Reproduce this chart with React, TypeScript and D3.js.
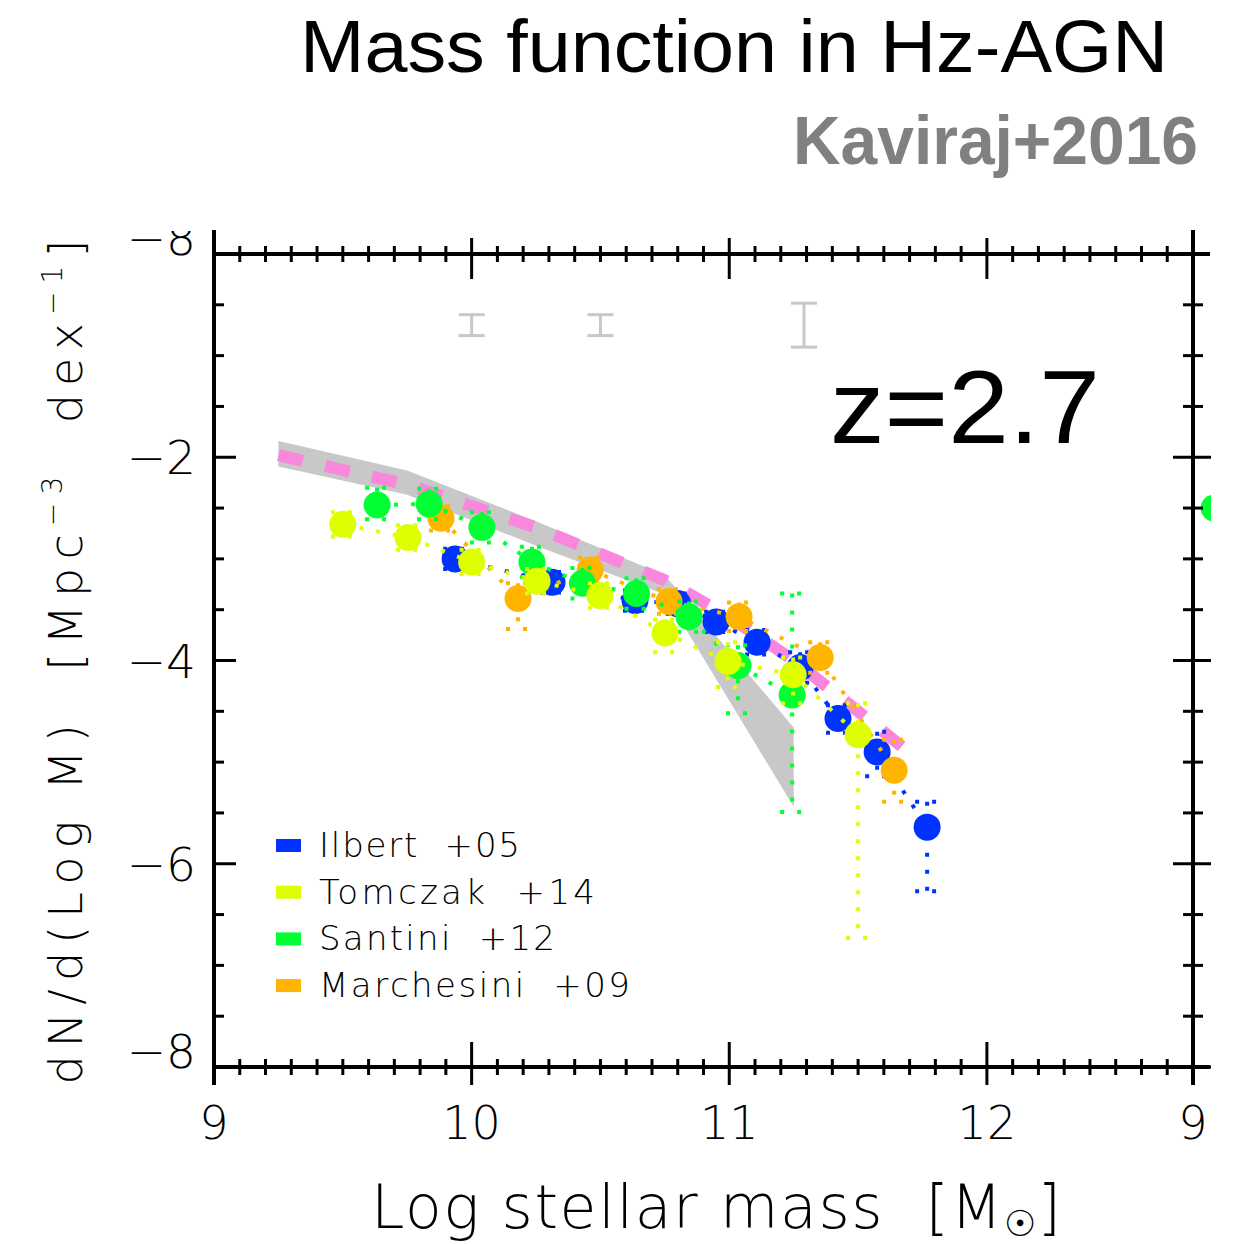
import React from 'react';
import * as d3 from 'd3';

// ---------- data ----------
const xMajorTicks = [9, 10, 11, 12];
const yMajorTicks = [-2, -4, -6, -8];
const xTickLabels = ['9', '10', '11', '12'];
const yTickLabels = ['−2', '−4', '−6', '−8'];

// Hz-AGN model: grey range band
const bandMass = [9.25, 9.75, 10.25, 10.75, 11.25];
const bandHi = [-1.84, -2.13, -2.63, -3.16, -4.66];
const bandLo = [-2.09, -2.37, -2.87, -3.35, -5.44];

// Hz-AGN model: pink dashed line
const modelMass = [9.25, 9.75, 10.25, 10.75, 11.0, 11.25, 11.5, 11.73];
const modelVal = [-1.98, -2.27, -2.69, -3.21, -3.57, -4.0, -4.5, -4.97];

// grey reference error bars
const refErrMass = [10.0, 10.5, 11.29];
const refErrVal = [-0.70, -0.70, -0.70];
const refErrHalf = [0.103, 0.103, 0.216];

// observations
const ilbertMass = [9.936, 10.312, 10.634, 10.8, 10.949, 11.108, 11.275, 11.422, 11.574, 11.768];
const ilbertVal = [-3.0, -3.23, -3.41, -3.44, -3.62, -3.82, -4.07, -4.57, -4.9, -5.64];
const ilbertErrHi = [0.1, 0.1, 0.1, 0.1, 0.1, 0.12, 0.15, 0.13, 0.2, 0.25];
const ilbertErrLo = [0.1, 0.1, 0.1, 0.1, 0.1, 0.12, 0.15, 0.14, 0.24, 0.63];

const tomczakMass = [9.5, 9.753, 10.0, 10.254, 10.498, 10.751, 10.995, 11.248, 11.5];
const tomczakVal = [-2.66, -2.79, -3.03, -3.22, -3.36, -3.73, -4.01, -4.14, -4.73];
const tomczakErrHi = [0.12, 0.12, 0.12, 0.12, 0.12, 0.13, 0.19, 0.17, 0.31];
const tomczakErrLo = [0.12, 0.12, 0.12, 0.12, 0.12, 0.19, 0.25, 0.28, 2.0];

const santiniMass = [9.633, 9.835, 10.04, 10.234, 10.43, 10.64, 10.844, 11.034, 11.244];
const santiniVal = [-2.47, -2.46, -2.69, -3.03, -3.24, -3.34, -3.57, -4.05, -4.34];
const santiniErrHi = [0.17, 0.15, 0.15, 0.15, 0.15, 0.15, 0.15, 0.2, 1.0];
const santiniErrLo = [0.14, 0.15, 0.15, 0.15, 0.15, 0.15, 0.15, 0.47, 1.15];

const marchesiniMass = [9.881, 10.18, 10.46, 10.766, 11.038, 11.353, 11.64];
const marchesiniVal = [-2.6, -3.39, -3.11, -3.42, -3.57, -3.97, -5.08];
const marchesiniErrHi = [0.12, 0.15, 0.12, 0.12, 0.14, 0.15, 0.3];
const marchesiniErrLo = [0.12, 0.3, 0.12, 0.12, 0.14, 0.15, 0.31];

// first point of the neighbouring panel (clipped at the picture edge)
const nextPanelMass = [9.078];
const nextPanelVal = [-2.5];

const legendNames = ['Ilbert  +05', 'Tomczak  +14', 'Santini  +12', 'Marchesini  +09'];
const legendWidths = [201, 276, 236, 311];

const BLUE = '#0033ff';
const YELLOW = '#ddff00';
const GREEN = '#00ff33';
const ORANGE = '#ffb400';
const GREY = '#c8c8c8';
const PINK = '#f987dc';

type Series = { mass: number[]; val: number[]; hi: number[]; lo: number[]; color: string };

const seriesDrawOrder: Series[] = [
  { mass: ilbertMass, val: ilbertVal, hi: ilbertErrHi, lo: ilbertErrLo, color: BLUE },
  { mass: marchesiniMass, val: marchesiniVal, hi: marchesiniErrHi, lo: marchesiniErrLo, color: ORANGE },
  { mass: santiniMass, val: santiniVal, hi: santiniErrHi, lo: santiniErrLo, color: GREEN },
  { mass: tomczakMass, val: tomczakVal, hi: tomczakErrHi, lo: tomczakErrLo, color: YELLOW },
];
const legendColors = [BLUE, YELLOW, GREEN, ORANGE];

// ---------- layout ----------
const W = 1239;
const H = 1244;
const X0 = 214, X1 = 1193, Y0 = 254, Y1 = 1067;

export default function App() {
  const x = d3.scaleLinear().domain([9, 12.8]).range([X0, X1]);
  const y = d3.scaleLinear().domain([0, -8]).range([Y0, Y1]);
  const xNext = d3.scaleLinear().domain([9, 12.8]).range([X1, X1 + (X1 - X0)]);

  const TF = "'DejaVu Sans', sans-serif";
  const TW = 200;
  const HF = "'Liberation Sans', 'Helvetica', sans-serif";

  const bandPts: [number, number][] = [
    ...bandMass.map((m, i) => [x(m), y(bandHi[i])] as [number, number]),
    ...bandMass.map((m, i) => [x(m), y(bandLo[i])] as [number, number]).reverse(),
  ];
  const line = d3.line<[number, number]>();
  const bandPath = line(bandPts) + 'Z';
  const modelPath = line(modelMass.map((m, i) => [x(m), y(modelVal[i])]));

  const minorX = d3.range(90, 129).map((i) => i / 10).filter((v) => Math.abs(v - Math.round(v)) > 1e-6);
  const minorY = d3.range(0, 17).map((i) => -i / 2).filter((v) => Math.abs(v / 2 - Math.round(v / 2)) > 1e-6);

  const dot = { strokeDasharray: '4 13', strokeWidth: 4, fill: 'none' } as const;

  return (
    <svg width={W} height={H} style={{ position: 'absolute', left: 0, top: 0, background: '#fff' }} xmlns="http://www.w3.org/2000/svg">
      <defs>
        <clipPath id="topClip"><rect x={0} y={231} width={W} height={H} /></clipPath>
        <clipPath id="rightClip"><rect x={0} y={0} width={1211} height={H} /></clipPath>
      </defs>
      <rect x={0} y={0} width={W} height={H} fill="#fff" />

      {/* titles */}
      <text x={1168} y={72} textAnchor="end" fontFamily={HF} fontSize={75} fill="#000" textLength={868} lengthAdjust="spacingAndGlyphs">Mass function in Hz-AGN</text>
      <text x={1198} y={164} textAnchor="end" fontFamily={HF} fontWeight="bold" fontSize={68} fill="#808080" textLength={405} lengthAdjust="spacingAndGlyphs">Kaviraj+2016</text>

      {/* model band and line */}
      <path d={bandPath} fill={GREY} stroke="none" />
      <path d={modelPath || ''} fill="none" stroke={PINK} strokeWidth={12} strokeDasharray="25 23" />

      {/* grey reference error bars */}
      {refErrMass.map((m, i) => {
        const cx = x(m);
        const yt = y(refErrVal[i] + refErrHalf[i]);
        const yb = y(refErrVal[i] - refErrHalf[i]);
        return (
          <g key={'re' + i} stroke={GREY} strokeWidth={3}>
            <line x1={cx} x2={cx} y1={yt} y2={yb} />
            <line x1={cx - 13} x2={cx + 13} y1={yt} y2={yt} />
            <line x1={cx - 13} x2={cx + 13} y1={yb} y2={yb} />
          </g>
        );
      })}

      {/* observational data */}
      {seriesDrawOrder.map((s, si) => {
        const pts = s.mass.map((m, i) => [x(m), y(s.val[i])] as [number, number]);
        return (
          <g key={'s' + si}>
            <path d={line(pts) || ''} stroke={s.color} {...dot} />
            {s.mass.map((m, i) => {
              const cx = x(m);
              const yt = y(s.val[i] + s.hi[i]);
              const yb = y(s.val[i] - s.lo[i]);
              return (
                <g key={i} stroke={s.color} {...dot}>
                  <line x1={cx} x2={cx} y1={yt} y2={yb} />
                  <line x1={cx - 12} x2={cx + 12} y1={yt} y2={yt} />
                  <line x1={cx - 12} x2={cx + 12} y1={yb} y2={yb} />
                </g>
              );
            })}
            {pts.map((p, i) => (
              <circle key={'c' + i} cx={p[0]} cy={p[1]} r={13.5} fill={s.color} />
            ))}
          </g>
        );
      })}

      {/* neighbouring panel remnant */}
      <g clipPath="url(#rightClip)">
        {nextPanelMass.map((m, i) => (
          <g key={'np' + i}>
            <line x1={xNext(m) - 12} x2={xNext(m) + 12} y1={y(nextPanelVal[i])} y2={y(nextPanelVal[i])} stroke={GREEN} {...dot} />
            <circle cx={xNext(m) + 1} cy={y(nextPanelVal[i])} r={13.5} fill={GREEN} />
          </g>
        ))}
      </g>

      {/* z label */}
      <text x={1100} y={443} textAnchor="end" fontFamily={HF} fontSize={104} fill="#000" textLength={270} lengthAdjust="spacingAndGlyphs">z=2.7</text>

      {/* frame */}
      <g stroke="#000" strokeWidth={4} fill="none">
        <line x1={X0} x2={1210} y1={Y0} y2={Y0} />
        <line x1={X0} x2={1210} y1={Y1} y2={Y1} />
        <line x1={X0} x2={X0} y1={230} y2={1085} />
        <line x1={X1} x2={X1} y1={230} y2={1085} />
      </g>
      <g stroke="#000" strokeWidth={3}>
        {minorX.map((v) => (
          <g key={'mx' + v}>
            <line x1={x(v)} x2={x(v)} y1={Y0 - 8} y2={Y0 + 8} />
            <line x1={x(v)} x2={x(v)} y1={Y1 - 8} y2={Y1 + 8} />
          </g>
        ))}
        {xMajorTicks.map((v) => (
          <g key={'Mx' + v}>
            <line x1={x(v)} x2={x(v)} y1={Y0 - 16} y2={Y0 + 25} />
            <line x1={x(v)} x2={x(v)} y1={Y1 - 25} y2={Y1 + 18} />
          </g>
        ))}
        {minorY.map((v) => (
          <g key={'my' + v}>
            <line x1={X0} x2={X0 + 10} y1={y(v)} y2={y(v)} />
            <line x1={X1 - 10} x2={X1 + 10} y1={y(v)} y2={y(v)} />
          </g>
        ))}
        {yMajorTicks.map((v) => (
          <g key={'My' + v}>
            <line x1={X0} x2={X0 + 22} y1={y(v)} y2={y(v)} />
            <line x1={X1 - 20} x2={X1 + 18} y1={y(v)} y2={y(v)} />
          </g>
        ))}
      </g>

      {/* tick labels */}
      {xMajorTicks.map((v, i) => (
        <text key={'xl' + v} x={x(v)} y={1139} textAnchor="middle" fontFamily={TF} fontWeight={TW} fontSize={46} fill="#000">{xTickLabels[i]}</text>
      ))}
      <text x={xNext(9)} y={1139} textAnchor="middle" fontFamily={TF} fontWeight={TW} fontSize={46} fill="#000">9</text>
      {yMajorTicks.map((v, i) => (
        <text key={'yl' + v} x={196} y={v === -8 ? 1068 : y(v) + 17} textAnchor="end" fontFamily={TF} fontWeight={TW} fontSize={47} fill="#000">{yTickLabels[i]}</text>
      ))}
      <text x={196} y={255} textAnchor="end" fontFamily={TF} fontWeight={TW} fontSize={47} fill="#000" clipPath="url(#topClip)">−8</text>

      {/* axis titles */}
      <text x={716} y={1228} textAnchor="middle" fontFamily={TF} fontWeight={TW} fontSize={60} fill="#000" style={{ whiteSpace: 'pre' }} textLength={690}>
        Log stellar mass  [M<tspan fontSize={36} dy={8}>☉</tspan><tspan dy={-8}>]</tspan>
      </text>
      <text transform="translate(82,662) rotate(-90)" textAnchor="middle" fontFamily={TF} fontWeight={TW} fontSize={46} fill="#000" style={{ whiteSpace: 'pre' }} textLength={845}>
        dN/d(Log M)  [Mpc<tspan fontSize={28} dy={-20}>−3</tspan><tspan dy={20}>  dex</tspan><tspan fontSize={28} dy={-20}>−1</tspan><tspan dy={20}>]</tspan>
      </text>

      {/* legend */}
      {legendNames.map((n, i) => (
        <g key={'lg' + i}>
          <rect x={276} y={857 + i * 46.7 - 18} width={25} height={13} fill={legendColors[i]} />
          <text x={319} y={857 + i * 46.7} fontFamily={TF} fontWeight={TW} fontSize={34} fill="#000" style={{ whiteSpace: 'pre' }} textLength={legendWidths[i]}>{n}</text>
        </g>
      ))}
    </svg>
  );
}
